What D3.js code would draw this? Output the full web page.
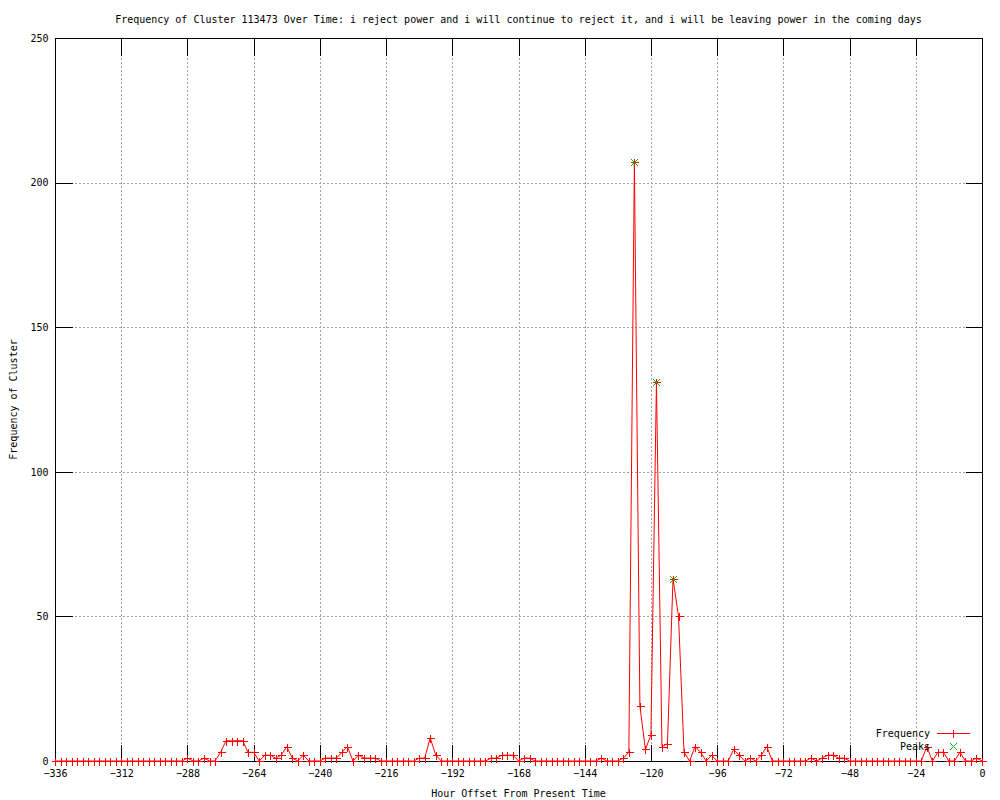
<!DOCTYPE html>
<html>
<head>
<meta charset="utf-8">
<script src="https://cdn.jsdelivr.net/npm/d3@7"></script>
<style>
  body { margin: 0; background: #fff; }
  text { font-family: "DejaVu Sans Mono", "Liberation Mono", monospace; font-size: 10px; fill: #000; }
</style>
</head>
<body>
<div id="chart"></div>
<script>

// hours before now, one sample every 2 hours
var hours = [
  -336,-334,-332,-330,-328,-326,-324,-322,-320,-318,-316,-314,
  -312,-310,-308,-306,-304,-302,-300,-298,-296,-294,-292,-290,
  -288,-286,-284,-282,-280,-278,-276,-274,-272,-270,-268,-266,
  -264,-262,-260,-258,-256,-254,-252,-250,-248,-246,-244,-242,
  -240,-238,-236,-234,-232,-230,-228,-226,-224,-222,-220,-218,
  -216,-214,-212,-210,-208,-206,-204,-202,-200,-198,-196,-194,
  -192,-190,-188,-186,-184,-182,-180,-178,-176,-174,-172,-170,
  -168,-166,-164,-162,-160,-158,-156,-154,-152,-150,-148,-146,
  -144,-142,-140,-138,-136,-134,-132,-130,-128,-126,-124,-122,
  -120,-118,-116,-114,-112,-110,-108,-106,-104,-102,-100,-98,
  -96,-94,-92,-90,-88,-86,-84,-82,-80,-78,-76,-74,
  -72,-70,-68,-66,-64,-62,-60,-58,-56,-54,-52,-50,
  -48,-46,-44,-42,-40,-38,-36,-34,-32,-30,-28,-26,
  -24,-22,-20,-18,-16,-14,-12,-10,-8,-6,-4,-2,
  0
]

var frequency = [
  0,0,0,0,0,0,0,0,0,0,0,0,
  0,0,0,0,0,0,0,0,0,0,0,0,
  1,0,0,1,0,0,3,7,7,7,7,3,
  3,0,2,2,1,2,5,1,0,2,0,0,
  0,1,1,1,3,5,0,2,1,1,1,0,
  0,0,0,0,0,0,1,1,8,2,0,0,
  0,0,0,0,0,0,0,1,1,2,2,2,
  0,1,1,0,0,0,0,0,0,0,0,0,
  0,0,0,1,0,0,0,1,3,207,19,4,
  9,131,5,6,63,50,3,0,5,3,0,2,
  0,0,0,4,2,0,1,0,2,5,0,0,
  0,0,0,0,0,1,0,1,2,2,1,1,
  0,0,0,0,0,0,0,0,0,0,0,0,
  0,0,5,0,3,3,0,0,3,0,0,1,
  0
]

var peakHours = [-126, -118, -112]
var peakValues = [207, 131, 63]

var xTicks = [-336, -312, -288, -264, -240, -216, -192, -168, -144, -120, -96, -72, -48, -24, 0]
var yTicks = [0, 50, 100, 150, 200, 250]

var width = 1000,
    height = 800,
    plotL = 55, plotR = 982, plotT = 38, plotB = 761,
    ticLen = 17

var red = "#ff0000",
    green = "#00c000"

var svg = d3.select("#chart")
  .append("svg")
    .attr("width", width)
    .attr("height", height)

var x = d3.scaleLinear().domain([-336, 0]).range([plotL, plotR])
var y = d3.scaleLinear().domain([0, 250]).range([plotB, plotT])

// dotted grid
var grid = svg.append("g")
  .attr("stroke", "#a0a0a0")
  .attr("stroke-dasharray", "2,2")
  .attr("shape-rendering", "crispEdges")
grid.selectAll("line.gx")
  .data(xTicks.slice(1, -1))
  .enter().append("line")
    .attr("x1", function(d) { return Math.round(x(d)) + 0.5 })
    .attr("x2", function(d) { return Math.round(x(d)) + 0.5 })
    .attr("y1", plotT)
    .attr("y2", plotB)
grid.selectAll("line.gy")
  .data(yTicks.slice(1, -1))
  .enter().append("line")
    .attr("y1", function(d) { return Math.round(y(d)) + 0.5 })
    .attr("y2", function(d) { return Math.round(y(d)) + 0.5 })
    .attr("x1", plotL)
    .attr("x2", plotR)

// axes: ticks pointing inwards, mirrored on the opposite side
var xBottom = svg.append("g")
  .attr("transform", "translate(0," + (plotB + 0.5) + ")")
  .call(d3.axisBottom(x).tickValues(xTicks).tickSizeInner(-ticLen).tickSizeOuter(0).tickPadding(8))
var xTop = svg.append("g")
  .attr("transform", "translate(0," + (plotT + 0.5) + ")")
  .call(d3.axisTop(x).tickValues(xTicks).tickSizeInner(-ticLen).tickSizeOuter(0).tickFormat(""))
var yLeft = svg.append("g")
  .attr("transform", "translate(" + (plotL + 0.5) + ",0)")
  .call(d3.axisLeft(y).tickValues(yTicks).tickSizeInner(-ticLen).tickSizeOuter(0).tickPadding(7))
var yRight = svg.append("g")
  .attr("transform", "translate(" + (plotR + 0.5) + ",0)")
  .call(d3.axisRight(y).tickValues(yTicks).tickSizeInner(-ticLen).tickSizeOuter(0).tickFormat(""))

svg.selectAll(".domain").remove()
svg.selectAll(".tick line").attr("stroke", "#000").attr("shape-rendering", "crispEdges")
svg.selectAll(".tick text")
  .attr("fill", "#000")
  .style("font-family", '"DejaVu Sans Mono", monospace')
  .style("font-size", "10px")

// plot border
svg.append("rect")
  .attr("x", plotL + 0.5)
  .attr("y", plotT + 0.5)
  .attr("width", plotR - plotL)
  .attr("height", plotB - plotT)
  .attr("fill", "none")
  .attr("stroke", "#000")
  .attr("shape-rendering", "crispEdges")

var points = hours.map(function(h, i) { return [h, frequency[i]] })

// frequency line
svg.append("path")
  .datum(points)
  .attr("fill", "none")
  .style("stroke", red)
  .attr("stroke-width", 1)
  .attr("d", d3.line()
    .x(function(d) { return x(d[0]) })
    .y(function(d) { return y(d[1]) }))

// '+' markers
var plus = "M-3.5,0.5H4.5M0.5,-3.5V4.5"
svg.selectAll("path.plus")
  .data(points)
  .enter().append("path")
    .attr("class", "plus")
    .attr("transform", function(d) { return "translate(" + Math.round(x(d[0])) + "," + Math.round(y(d[1])) + ")" })
    .attr("d", plus)
    .style("stroke", red)
    .attr("shape-rendering", "crispEdges")

// peaks as green 'x'
var cross = "M-3,-3L4,4M-3,4L4,-3"
svg.selectAll("path.peak")
  .data(peakHours)
  .enter().append("path")
    .attr("class", "peak")
    .attr("transform", function(d, i) { return "translate(" + Math.round(x(d)) + "," + Math.round(y(peakValues[i])) + ")" })
    .attr("d", cross)
    .style("stroke", green)

// legend
var legend = svg.append("g").attr("class", "legend")
legend.append("text").attr("x", 930).attr("y", 733).attr("dy", "0.35em").attr("text-anchor", "end").text("Frequency")
legend.append("path")
  .attr("d", "M937,733.5H970")
  .style("stroke", red)
  .style("fill", "none")
  .attr("shape-rendering", "crispEdges")
legend.append("path")
  .attr("transform", "translate(953,733)")
  .attr("d", plus)
  .style("stroke", red)
  .style("fill", "none")
  .attr("shape-rendering", "crispEdges")
legend.append("text").attr("x", 930).attr("y", 746).attr("dy", "0.35em").attr("text-anchor", "end").text("Peaks")
legend.append("path")
  .attr("transform", "translate(953,746)")
  .attr("d", cross)
  .style("stroke", green)
  .style("fill", "none")

// titles
svg.append("text")
  .attr("x", (plotL + plotR) / 2)
  .attr("y", 19)
  .attr("dy", "0.35em")
  .attr("text-anchor", "middle")
  .text("Frequency of Cluster 113473 Over Time: i reject power and i will continue to reject it, and i will be leaving power in the coming days")

svg.append("text")
  .attr("x", (plotL + plotR) / 2)
  .attr("y", 793)
  .attr("dy", "0.35em")
  .attr("text-anchor", "middle")
  .text("Hour Offset From Present Time")

svg.append("text")
  .attr("transform", "translate(13," + (plotT + plotB) / 2 + ") rotate(-90)")
  .attr("dy", "0.35em")
  .attr("text-anchor", "middle")
  .text("Frequency of Cluster")

</script>
</body>
</html>
